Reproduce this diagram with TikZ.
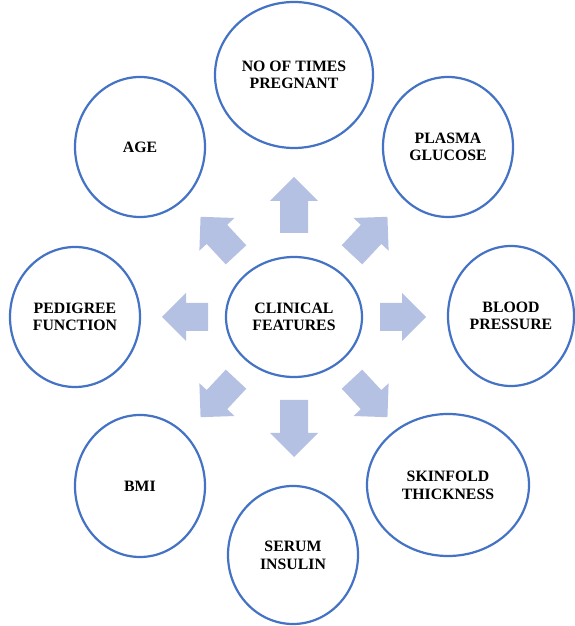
\documentclass[tikz,border=0pt]{standalone}
\usepackage{fontspec}
\setmainfont{Liberation Serif}
\usetikzlibrary{shapes.geometric}
\definecolor{ringblue}{RGB}{68,114,196}
\definecolor{arrowfill}{RGB}{180,193,226}
\begin{document}
\begin{tikzpicture}[x=1pt, y=1pt,
    feature/.style={ellipse, draw=ringblue, line width=2.2pt, fill=white,
      inner sep=0pt, align=center,
      font=\bfseries\fontsize{15.8}{17.7}\selectfont},
    blockarrow/.style={fill=arrowfill}]
    \useasboundingbox (0, 0) rectangle (575, 626);
    % hub
    \node[feature, minimum width=136pt, minimum height=120pt] (clin) at (294, 309) {CLINICAL\\FEATURES};
    % block arrows, angle/start/length
    \foreach \ang/\from/\len in {90/84/56, 270/83/57, 0/86/46, 180/86/46,
                                 47/85/52, 133/85/52, 227/85/52, 313/85/52}
      \fill[blockarrow, shift={(clin.center)}, rotate=\ang]
        (\from, -14) -- (\from+\len-24, -14) -- (\from+\len-24, -24)
        -- (\from+\len, 0) -- (\from+\len-24, 24) -- (\from+\len-24, 14)
        -- (\from, 14) -- cycle;
    % features
    \node[feature, minimum width=158pt, minimum height=146pt] (preg) at (294, 551) {NO OF TIMES\\PREGNANT};
    \node[feature, minimum width=130pt, minimum height=140pt] (gluc) at (448, 479) {PLASMA\\GLUCOSE};
    \node[feature, minimum width=126pt, minimum height=140pt] (bp) at (511, 310) {BLOOD\\PRESSURE};
    \node[feature, minimum width=162pt, minimum height=142pt] (skin) at (448, 141) {SKINFOLD\\THICKNESS};
    \node[feature, minimum width=130pt, minimum height=138pt] (ins) at (293, 71) {SERUM\\INSULIN};
    \node[feature, minimum width=130pt, minimum height=142pt] (bmi) at (140, 140) {BMI};
    \node[feature, minimum width=130pt, minimum height=140pt] (ped) at (75, 309) {PEDIGREE\\FUNCTION};
    \node[feature, minimum width=130pt, minimum height=140pt] (age) at (140, 479) {AGE};
\end{tikzpicture}
\end{document}
